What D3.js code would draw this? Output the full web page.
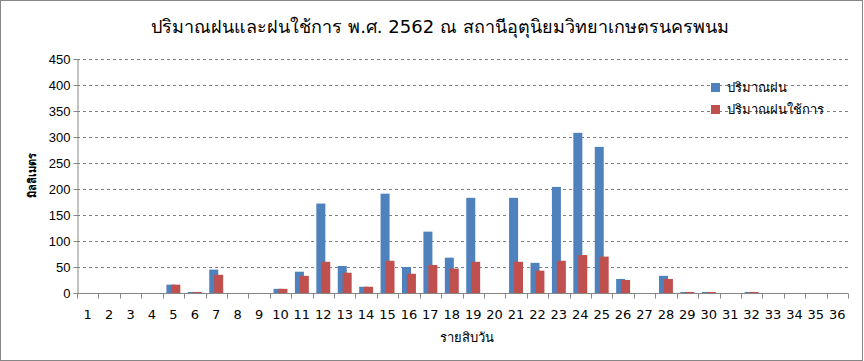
<!DOCTYPE html>
<html>
<head>
<meta charset="utf-8">
<script src="https://cdn.jsdelivr.net/npm/d3@7"></script>
<style>
  body { margin: 0; background: #fff; }
  svg { display: block; font-family: "DejaVu Sans", "Noto Sans", sans-serif; }
</style>
</head>
<body>
<div id="chart"></div>
<script>
// ten-day periods 1..36
var periods = d3.range(1, 37).map(String);
// rainfall (mm)
var rain = [0, 0, 0, 0, 16, 2, 45, 0, 0, 8, 41, 172, 52, 12, 191, 50, 118, 68,
            183, 0, 183, 58, 204, 308, 281, 27, 0, 33, 2, 2, 0, 2, 0, 0, 0, 0];
// effective rainfall (mm)
var effRain = [0, 0, 0, 0, 16, 2, 35, 0, 0, 8, 33, 60, 39, 12, 62, 37, 54, 47,
               60, 0, 60, 43, 62, 73, 70, 25, 0, 27, 2, 2, 0, 2, 0, 0, 0, 0];
var yTicks = [0, 50, 100, 150, 200, 250, 300, 350, 400, 450];
var seriesNames = ["ปริมาณฝน", "ปริมาณฝนใช้การ"];
var seriesColors = ["#4f81bd", "#c0504d"];

var width = 864, height = 361;
var margin = {top: 59, right: 16, bottom: 68, left: 77};

var svg = d3.select("#chart").append("svg")
    .attr("width", width)
    .attr("height", height);

// outer chart border
svg.append("rect")
   .attr("x", 0.5).attr("y", 0.5)
   .attr("width", width - 2).attr("height", height - 1)
   .attr("fill", "#fff")
   .attr("stroke", "#868686");

var x = d3.scaleBand()
    .domain(periods)
    .range([margin.left, width - margin.right]);

var y = d3.scaleLinear()
    .domain([0, 450])
    .range([height - margin.bottom, margin.top]);

var g = svg.append("g");

// dashed gridlines
g.selectAll("line.grid")
  .data(yTicks.slice(1))
  .enter().append("line")
  .attr("class", "grid")
  .attr("x1", margin.left)
  .attr("x2", width - margin.right)
  .attr("y1", function(d){ return Math.round(y(d)) + 0.5; })
  .attr("y2", function(d){ return Math.round(y(d)) + 0.5; })
  .attr("stroke", "#808080")
  .attr("stroke-dasharray", "3,3");

var bw = x.bandwidth() * 0.42;
var shift = x.bandwidth() * 0.23;

// rain bars (blue) behind, effective rain (red) in front
g.selectAll("rect.rain")
  .data(rain)
  .enter().append("rect")
  .attr("class", "rain")
  .attr("x", function(d, i){ return x(periods[i]) + x.bandwidth() / 2 - (bw + shift) / 2; })
  .attr("y", function(d){ return y(d); })
  .attr("width", bw)
  .attr("height", function(d){ return y(0) - y(d); })
  .attr("fill", seriesColors[0]);

g.selectAll("rect.eff")
  .data(effRain)
  .enter().append("rect")
  .attr("class", "eff")
  .attr("x", function(d, i){ return x(periods[i]) + x.bandwidth() / 2 - (bw + shift) / 2 + shift; })
  .attr("y", function(d){ return y(d); })
  .attr("width", bw)
  .attr("height", function(d){ return y(0) - y(d); })
  .attr("fill", seriesColors[1]);

// y axis
var yAxis = svg.append("g")
   .attr("transform", "translate(" + (margin.left + 0.5) + ",0)")
   .call(d3.axisLeft(y).tickValues(yTicks).tickSize(4).tickPadding(3));
yAxis.select(".domain").attr("stroke", "#868686");
yAxis.selectAll(".tick line").attr("stroke", "#868686");
yAxis.selectAll("text").attr("font-size", 13).attr("fill", "#000");

// x axis: ticks on category boundaries
var xAxis = svg.append("g")
   .attr("transform", "translate(0," + (Math.round(y(0)) + 0.5) + ")");
xAxis.append("line")
   .attr("x1", margin.left).attr("x2", width - margin.right)
   .attr("stroke", "#868686");
xAxis.selectAll("line.tk")
   .data(periods.concat(["end"]))
   .enter().append("line")
   .attr("class", "tk")
   .attr("x1", function(d, i){ return Math.round(margin.left + i * x.step()) + 0.5; })
   .attr("x2", function(d, i){ return Math.round(margin.left + i * x.step()) + 0.5; })
   .attr("y1", 0).attr("y2", 5)
   .attr("stroke", "#868686");
xAxis.selectAll("text")
   .data(periods)
   .enter().append("text")
   .attr("x", function(d){ return x(d) + x.bandwidth() / 2; })
   .attr("y", 25)
   .attr("text-anchor", "middle")
   .attr("font-size", 13)
   .text(function(d){ return d; });

// title
svg.append("text")
   .attr("x", 440).attr("y", 33)
   .attr("text-anchor", "middle")
   .attr("font-size", 18)
   .text("ปริมาณฝนและฝนใช้การ พ.ศ. 2562 ณ สถานีอุตุนิยมวิทยาเกษตรนครพนม");

// axis titles
svg.append("text")
   .attr("x", 467).attr("y", 342)
   .attr("text-anchor", "middle")
   .attr("font-size", 13)
   .text("รายสิบวัน");

svg.append("text")
   .attr("transform", "translate(36,175) rotate(-90)")
   .attr("text-anchor", "middle")
   .attr("font-size", 11)
   .attr("font-weight", "bold")
   .text("มิลลิเมตร");

// legend
var legend = svg.selectAll("g.legend")
   .data(seriesNames)
   .enter().append("g")
   .attr("class", "legend")
   .attr("transform", function(d, i){ return "translate(711," + (83 + i * 22) + ")"; });
legend.append("rect")
   .attr("width", 9).attr("height", 9)
   .attr("fill", function(d, i){ return seriesColors[i]; });
legend.append("text")
   .attr("x", 16).attr("y", 9)
   .attr("font-size", 13)
   .text(function(d){ return d; });
</script>
</body>
</html>
